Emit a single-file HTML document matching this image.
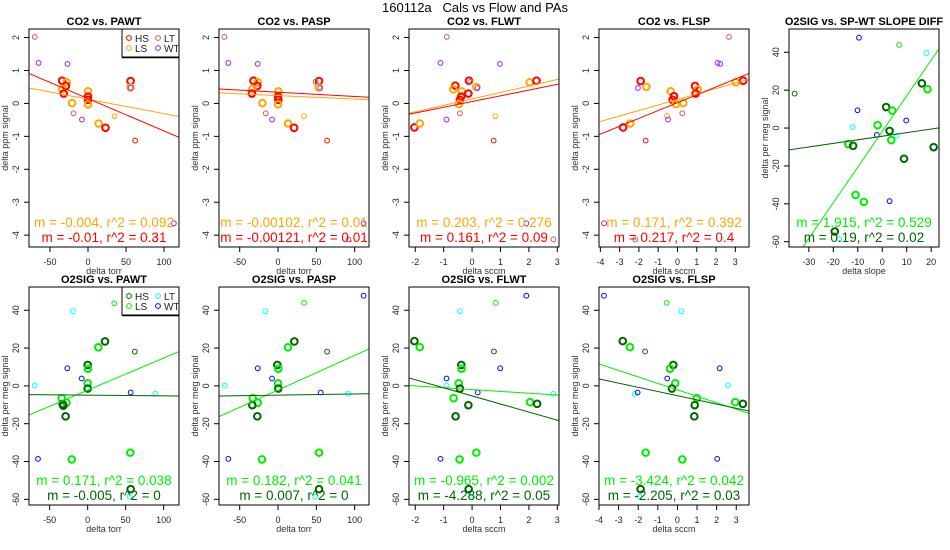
<!DOCTYPE html>
<html><head><meta charset="utf-8"><style>
html,body{margin:0;padding:0;background:#fff;}
svg{display:block;font-family:"Liberation Sans",sans-serif;}
</style></head><body>
<svg id="chart" width="950" height="550" viewBox="0 0 950 550" xmlns="http://www.w3.org/2000/svg">
<text x="475" y="12" text-anchor="middle" font-size="13" style="white-space:pre">160112a   Cals vs Flow and PAs</text>
</svg>
<script>
// ---- data: [x, y, group, thick] ----
const co2Pawt = [[-70,2.02,'LT',0],[-65,1.23,'WT',0],[-27,1.2,'WT',0],[-34,0.69,'HS',1],[-28,0.64,'LS',1],[-29,0.53,'HS',1],[-34,0.44,'LS',1],[-32,0.3,'HS',1],[-21,0.01,'LS',1],[-19,-0.3,'LT',0],[-8,-0.49,'WT',0],[0,0.37,'LS',1],[0,0.21,'HS',1],[0,0.11,'HS',1],[0,-0.03,'LS',1],[14,-0.61,'LS',1],[23,-0.74,'HS',1],[35,-0.39,'LS',0],[56,0.68,'HS',1],[56,0.49,'LS',1],[56,0.47,'WT',0],[62,-1.13,'HS',0],[113,-3.64,'WT',0],[88.6,-4.13,'LT',0]];
const co2Pasp = [[-70,2.02,'LT',0],[-64.8,1.23,'WT',0],[-26.5,1.2,'WT',0],[-32,0.69,'HS',1],[-26.5,0.64,'LS',1],[-27,0.53,'HS',1],[-33.5,0.44,'LS',1],[-34,0.3,'HS',1],[-20.4,0.01,'LS',1],[-16,-0.3,'LT',0],[-7.8,-0.49,'WT',0],[0.4,0.37,'LS',1],[0,0.21,'HS',1],[0.4,0.11,'HS',1],[0,-0.03,'LS',1],[13,-0.61,'LS',1],[21,-0.74,'HS',1],[34,-0.39,'LS',0],[53.5,0.68,'HS',1],[53,0.49,'LS',1],[49,0.66,'LT',0],[55,0.47,'WT',0],[64,-1.13,'HS',0],[111.7,-3.64,'WT',0],[92,-4.13,'LT',0]];
const co2Flwt = [[-0.89,2.02,'LT',0],[-1.11,1.23,'WT',0],[0.98,1.2,'WT',0],[-2.03,-0.73,'HS',1],[-1.84,-0.61,'LS',1],[-0.59,0.54,'HS',1],[-0.66,0.43,'LS',1],[-0.11,0.69,'HS',1],[-0.06,0.66,'LT',0],[-0.37,0.37,'LS',1],[-0.38,0.21,'HS',1],[-0.43,0.11,'HS',1],[-0.46,-0.02,'LS',1],[-0.13,0.3,'HS',1],[0.15,0.5,'LS',1],[0.19,0.47,'WT',0],[-0.43,-0.3,'LT',0],[-0.9,-0.49,'WT',0],[0.82,-0.39,'LS',0],[0.76,-1.13,'HS',0],[2.03,0.64,'LS',1],[2.27,0.69,'HS',1],[1.91,-3.64,'WT',0],[2.86,-4.13,'LT',0]];
const co2Flsp = [[2.67,2.02,'LT',0],[2.08,1.23,'WT',0],[2.22,1.2,'WT',0],[-1.91,0.68,'HS',1],[-2.05,0.47,'WT',0],[-1.61,0.5,'LS',1],[-2.82,-0.73,'HS',1],[-2.45,-0.61,'LS',1],[-0.35,0.37,'LS',1],[-0.18,0.22,'HS',1],[-0.25,0.11,'HS',1],[-0.08,-0.02,'LS',1],[0.3,0.01,'LS',1],[-0.54,-0.38,'LS',0],[-0.49,-0.49,'WT',0],[0.25,-0.3,'LT',0],[-1.65,-1.13,'HS',0],[0.91,0.53,'HS',1],[1.05,0.43,'LS',1],[0.94,0.3,'HS',1],[3.03,0.64,'LS',1],[3.41,0.69,'HS',1],[-3.81,-3.64,'WT',0],[-2.19,-4.13,'LT',0]];
const o2Slope = [[-9.5,47.7,'WT',0],[6.9,43.9,'LS',0],[18.1,39.6,'LT',0],[-35.8,18.2,'HS',0],[-10.1,9.4,'WT',0],[1.6,11.1,'HS',1],[4.1,9.2,'LS',1],[-1.9,1.5,'LS',1],[-12.1,0.5,'LT',0],[9.8,4.0,'WT',0],[3.0,-1.5,'HS',1],[-2.2,-3.6,'WT',0],[5.9,-4.1,'LT',0],[3.7,-6.4,'LS',1],[-13.9,-8.5,'LS',1],[-11.9,-9.4,'HS',1],[21.0,-10.1,'HS',1],[8.9,-16.2,'HS',1],[16.2,23.6,'HS',1],[18.5,20.5,'LS',1],[-10.9,-35.3,'LS',1],[-7.5,-39.0,'LS',1],[3.0,-38.6,'WT',0],[-19.4,-54.6,'HS',1],[-17.6,-58.6,'LT',0]];
const o2Pawt = [[-69.7,0.2,'LT',0],[-19.3,39.5,'LT',0],[35,43.7,'LS',0],[62,18.1,'HS',0],[-26.8,9.3,'WT',0],[-7.9,3.9,'WT',0],[0,11.1,'HS',1],[0.4,9.1,'LS',1],[0,1.4,'LS',1],[0,-1.4,'HS',1],[22.8,23.5,'HS',1],[14,20.4,'LS',1],[-34.2,-6.5,'LS',1],[-28,-8.9,'LS',1],[-32.9,-9.6,'HS',1],[-32,-10.5,'HS',1],[-29,-16.1,'HS',1],[56.6,-3.5,'WT',0],[89,-4.2,'LT',0],[-65.4,-38.6,'WT',0],[-21,-38.9,'LS',1],[56.1,-35.3,'LS',1],[56.6,-54.6,'HS',1],[55,-58.6,'LT',0]];
const o2Pasp = [[-69.6,0.2,'LT',0],[-64.8,-38.6,'WT',0],[-16.5,39.5,'LT',0],[34,43.9,'LS',0],[111.7,47.7,'WT',0],[64,18.1,'HS',0],[-26.5,9.3,'WT',0],[-7.8,3.9,'WT',0],[-0.9,11.1,'HS',1],[0.4,9.1,'LS',1],[0,1.4,'LS',1],[0.4,-1.4,'HS',1],[21.3,23.5,'HS',1],[13,20.4,'LS',1],[-33,-6.5,'LS',1],[-26.5,-8.9,'LS',1],[-33.5,-10.2,'HS',1],[-27,-16.1,'HS',1],[55.7,-3.5,'WT',0],[91.7,-4.2,'LT',0],[-20.9,-38.9,'LS',1],[53.5,-35.3,'LS',1],[53.5,-54.6,'HS',1],[48.7,-58.6,'LT',0]];
const o2Flwt = [[1.91,47.7,'WT',0],[0.83,43.9,'LS',0],[-0.43,39.5,'LT',0],[0.77,18.2,'HS',0],[-2.03,23.7,'HS',1],[-1.84,20.5,'LS',1],[-0.38,11.1,'HS',1],[-0.37,9.1,'LS',1],[-0.9,3.9,'WT',0],[-0.9,0.2,'LT',0],[-0.47,1.4,'LS',1],[-0.43,-1.4,'HS',1],[0.2,-3.5,'WT',0],[2.86,-4.2,'LT',0],[0.99,9.3,'WT',0],[-0.65,-6.5,'LS',1],[-0.13,-10.2,'HS',1],[-0.58,-16.1,'HS',1],[2.04,-8.6,'LS',1],[2.29,-9.5,'HS',1],[-1.11,-38.6,'WT',0],[-0.44,-38.9,'LS',1],[0.15,-35.3,'LS',1],[-0.12,-54.6,'HS',1],[-0.04,-58.6,'LT',0]];
const o2Flsp = [[-3.75,47.7,'WT',0],[-0.55,43.9,'LS',0],[0.2,39.5,'LT',0],[-1.65,18.2,'HS',0],[-2.79,23.7,'HS',1],[-2.42,20.5,'LS',1],[-0.21,11.1,'HS',1],[-0.38,9.1,'LS',1],[-0.52,3.9,'WT',0],[-0.11,1.4,'LS',1],[-0.28,-1.4,'HS',1],[-2.18,-4.2,'LT',0],[-2.03,-3.5,'WT',0],[2.58,0.2,'LT',0],[2.15,9.3,'WT',0],[0.99,-6.5,'LS',1],[0.88,-10.2,'HS',1],[0.86,-16.1,'HS',1],[2.95,-8.6,'LS',1],[3.34,-9.5,'HS',1],[2.03,-38.6,'WT',0],[-1.62,-35.3,'LS',1],[0.25,-38.9,'LS',1],[-1.88,-54.6,'HS',1],[-1.93,-58.6,'LT',0]];
// fits: [slope, intercept, group]
const co2PawtFits = [[-0.0044,0.128,'LS'],[-0.00983,0.147,'HS']];
const co2PaspFits = [[-0.00107,0.238,'LS'],[-0.00128,0.341,'HS']];
const co2FlwtFits = [[0.197,0.137,'LS'],[0.174,0.056,'HS']];
const co2FlspFits = [[0.167,0.12,'LS'],[0.239,0.023,'HS']];
const o2SlopeFits = [[1.883,-1.8,'LS'],[0.189,-4.3,'HS']];
const o2PawtFits = [[0.170,-2.28,'LS'],[-0.004,-4.9,'HS']];
const o2PaspFits = [[0.183,-2.2,'LS'],[0.006,-4.9,'HS']];
const o2FlwtFits = [[-0.97,-1.95,'LS'],[-4.28,-5.3,'HS']];
const o2FlspFits = [[-3.42,-2.1,'LS'],[-2.22,-5.2,'HS']];
// fit annotation labels
const co2PawtLabels = ['m = -0.004, r^2 = 0.092','m = -0.01, r^2 = 0.31'];
const co2PaspLabels = ['m = -0.00102, r^2 = 0.01','m = -0.00121, r^2 = 0.01'];
const co2FlwtLabels = ['m = 0.203, r^2 = 0.276','m = 0.161, r^2 = 0.09'];
const co2FlspLabels = ['m = 0.171, r^2 = 0.392','m = 0.217, r^2 = 0.4'];
const o2SlopeLabels = ['m = 1.915, r^2 = 0.529','m = 0.19, r^2 = 0.02'];
const o2PawtLabels = ['m = 0.171, r^2 = 0.038','m = -0.005, r^2 = 0'];
const o2PaspLabels = ['m = 0.182, r^2 = 0.041','m = 0.007, r^2 = 0'];
const o2FlwtLabels = ['m = -0.965, r^2 = 0.002','m = -4.288, r^2 = 0.05'];
const o2FlspLabels = ['m = -3.424, r^2 = 0.042','m = -2.205, r^2 = 0.03'];
// ticks
const torrTicks = [-50,0,50,100];
const flwtTicks = [-2,-1,0,1,2,3];
const flspTicks = [-4,-3,-2,-1,0,1,2,3];
const slopeTicks = [-30,-20,-10,0,10,20];
const co2YTicks = [-4,-3,-2,-1,0,1,2];
const o2YTicks = [-60,-40,-20,0,20,40];

const CO2COL = {HS:'#ff0000', LS:'#ffa500', LT:'#cd5c5c', WT:'#a020f0'};
const O2COL = {HS:'#006400', LS:'#00ee00', LT:'#00ffff', WT:'#0000ff'};
const NS = 'http://www.w3.org/2000/svg';
const svg = document.getElementById('chart');
function mk(tag, attrs, parent, txt){
  const e = document.createElementNS(NS, tag);
  for (const k in attrs) e.setAttribute(k, attrs[k]);
  if (txt !== undefined) e.textContent = txt;
  parent.appendChild(e); return e;
}
const panels = [
  {id:'co2-pawt', title:'CO2 vs. PAWT', x0:29,y0:29, xd:[-77.6,119.7], yd:[-4.36,2.26], pts:co2Pawt, fits:co2PawtFits, labels:co2PawtLabels, xt:torrTicks, yt:co2YTicks, xl:'delta torr', yl:'delta ppm signal', col:CO2COL, legend:true},
  {id:'co2-pasp', title:'CO2 vs. PASP', x0:219,y0:29, xd:[-77,118.7], yd:[-4.36,2.26], pts:co2Pasp, fits:co2PaspFits, labels:co2PaspLabels, xt:torrTicks, yt:co2YTicks, xl:'delta torr', yl:'delta ppm signal', col:CO2COL},
  {id:'co2-flwt', title:'CO2 vs. FLWT', x0:409,y0:29, xd:[-2.22,3.06], yd:[-4.36,2.26], pts:co2Flwt, fits:co2FlwtFits, labels:co2FlwtLabels, xt:flwtTicks, yt:co2YTicks, xl:'delta sccm', yl:'delta ppm signal', col:CO2COL},
  {id:'co2-flsp', title:'CO2 vs. FLSP', x0:599,y0:29, xd:[-4.07,3.71], yd:[-4.36,2.26], pts:co2Flsp, fits:co2FlspFits, labels:co2FlspLabels, xt:flspTicks, yt:co2YTicks, xl:'delta sccm', yl:'delta ppm signal', col:CO2COL},
  {id:'o2-slope', title:'O2SIG vs. SP-WT SLOPE DIFF', x0:789,y0:29, xd:[-38.1,23.2], yd:[-62.8,52.3], pts:o2Slope, fits:o2SlopeFits, labels:o2SlopeLabels, xt:slopeTicks, yt:o2YTicks, xl:'delta slope', yl:'delta per meg signal', col:O2COL},
  {id:'o2-pawt', title:'O2SIG vs. PAWT', x0:29,y0:287, xd:[-77.2,120.2], yd:[-63,52.3], pts:o2Pawt, fits:o2PawtFits, labels:o2PawtLabels, xt:torrTicks, yt:o2YTicks, xl:'delta torr', yl:'delta per meg signal', col:O2COL, legend:true},
  {id:'o2-pasp', title:'O2SIG vs. PASP', x0:219,y0:287, xd:[-77,118.7], yd:[-63,52.3], pts:o2Pasp, fits:o2PaspFits, labels:o2PaspLabels, xt:torrTicks, yt:o2YTicks, xl:'delta torr', yl:'delta per meg signal', col:O2COL},
  {id:'o2-flwt', title:'O2SIG vs. FLWT', x0:409,y0:287, xd:[-2.22,3.06], yd:[-63,52.3], pts:o2Flwt, fits:o2FlwtFits, labels:o2FlwtLabels, xt:flwtTicks, yt:o2YTicks, xl:'delta sccm', yl:'delta per meg signal', col:O2COL},
  {id:'o2-flsp', title:'O2SIG vs. FLSP', x0:599,y0:287, xd:[-4.0,3.65], yd:[-63,52.3], pts:o2Flsp, fits:o2FlspFits, labels:o2FlspLabels, xt:flspTicks, yt:o2YTicks, xl:'delta sccm', yl:'delta per meg signal', col:O2COL}
];
const W = 150, H = 218;
panels.forEach(p => {
  const g = mk('g', {}, svg);
  
  
  const sx = v => p.x0 + (v - p.xd[0]) / (p.xd[1] - p.xd[0]) * W;
  const sy = v => p.y0 + H - (v - p.yd[0]) / (p.yd[1] - p.yd[0]) * H;
  const t = mk('text', {x:p.x0+W/2, y:p.y0-4, 'text-anchor':'middle', 'font-size':'11', 'font-weight':'bold'}, g, p.title);
  
  
  const cid = 'clip-' + p.id;
  const cp = mk('clipPath', {id:cid}, g);
  mk('rect', {x:p.x0, y:p.y0, width:W, height:H}, cp);
  p.xt.forEach(v => {
    const x = sx(v);
    mk('line', {x1:x, y1:p.y0+H, x2:x, y2:p.y0+H+5, stroke:'#000', 'stroke-width':'1'}, g);
    const tl = mk('text', {x:x, y:p.y0+H+18, 'text-anchor':'middle', 'font-size':'9', fill:'#222'}, g, String(v));
    
    
  });
  mk('line', {x1:sx(p.xt[0]), y1:p.y0+H, x2:sx(p.xt[p.xt.length-1]), y2:p.y0+H, stroke:'#000'}, g);
  p.yt.forEach(v => {
    const y = sy(v);
    mk('line', {x1:p.x0-5, y1:y, x2:p.x0, y2:y, stroke:'#000', 'stroke-width':'1'}, g);
    const tl = mk('text', {x:0, y:0, transform:`translate(${p.x0-10},${y}) rotate(-90)`, 'text-anchor':'middle', 'font-size':'9', fill:'#222'}, g, String(v));
    
    
  });
  const xl = mk('text', {x:p.x0+W/2, y:p.y0+H+27, 'text-anchor':'middle', 'font-size':'9', fill:'#333'}, g, p.xl);
  
  
  const yl = mk('text', {x:0, y:0, transform:`translate(${p.x0-21},${p.y0+H/2}) rotate(-90)`, 'text-anchor':'middle', 'font-size':'9', fill:'#333'}, g, p.yl);
  
  
  const pg = mk('g', {'clip-path':`url(#${cid})`}, g);
  p.pts.forEach(d => {
    const c = mk('circle', {cx:sx(d[0]), cy:sy(d[1]), r:d[3]?3.3:2.4, fill:'none', stroke:p.col[d[2]], 'stroke-width':d[3]?2:1}, pg);
    
    
  });
  p.fits.forEach(f => {
    const l = mk('line', {x1:sx(p.xd[0]), y1:sy(f[0]*p.xd[0]+f[1]), x2:sx(p.xd[1]), y2:sy(f[0]*p.xd[1]+f[1]), stroke:p.col[f[2]], 'stroke-width':'1'}, pg);
    
    
  });
  const cols = [p.col.LS, p.col.HS];
  p.labels.forEach((s, i) => {
    const a = mk('text', {x:p.x0+W/2, y:p.y0+H-20+i*15, 'text-anchor':'middle', 'font-size':'13.5', fill:cols[i]}, g, s);
    
    
  });
  mk('rect', {x:p.x0, y:p.y0, width:W, height:H, fill:'none', stroke:'#000', 'stroke-width':'1'}, g);
  if (p.legend) {
    const lg = mk('g', {}, g);
    
    
    const lx = p.x0+W-57, ly = p.y0;
    mk('rect', {x:lx, y:ly, width:57, height:28, fill:'#fff', stroke:'#000', 'stroke-width':'1'}, lg);
    mk('line', {x1:lx, y1:ly+28.5, x2:lx+57, y2:ly+28.5, stroke:'#000', 'stroke-width':'1.5'}, lg);
    [['HS',0,0],['LT',29,0],['LS',0,10],['WT',29,10]].forEach(e => {
      const eg = mk('g', {}, lg);
      
      
      mk('circle', {cx:lx+7+e[1], cy:ly+9+e[2], r:2.4, fill:'none', stroke:p.col[e[0]], 'stroke-width':'1'}, eg);
      mk('text', {x:lx+13+e[1], y:ly+13+e[2], 'font-size':'10', fill:'#222'}, eg, e[0]);
    });
  }
});
</script>
</body></html>
